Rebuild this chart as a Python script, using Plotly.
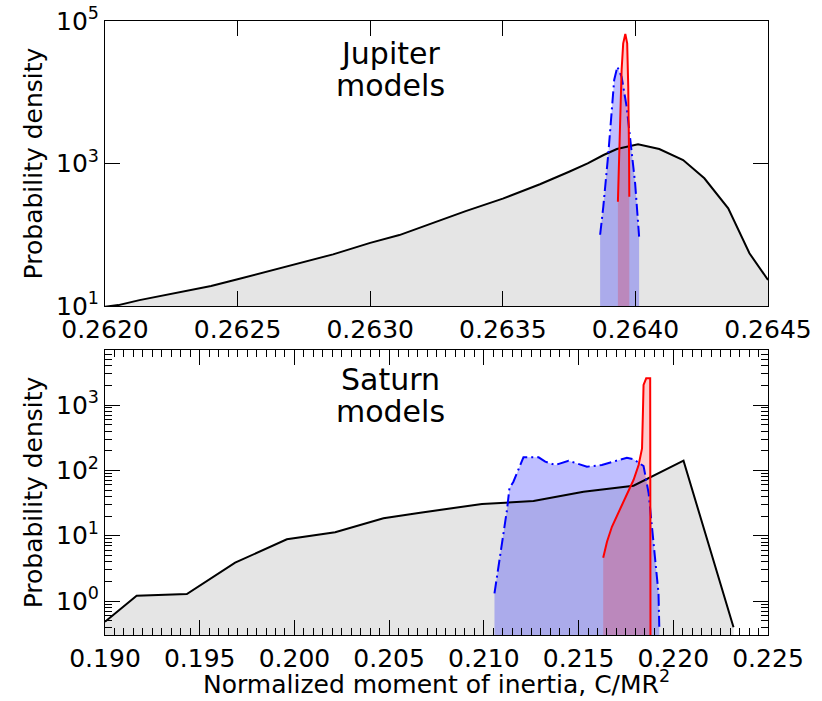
import plotly.graph_objects as go

# ---------------- Jupiter panel data ----------------
jup_all_x = [0.26200, 0.26205, 0.26213, 0.26240, 0.26250, 0.26261, 0.26271, 0.26286,
             0.26300, 0.26311, 0.26324, 0.26336, 0.26350, 0.26364, 0.26375, 0.26382,
             0.26388, 0.26393, 0.26401, 0.26409, 0.26418, 0.26426, 0.26435, 0.26443, 0.26450]
jup_all_y = [9.8, 10.3, 12.1, 19.1, 23.7, 30.3, 37.6, 53, 77, 99, 148, 215, 321, 511,
             767, 1007, 1316, 1598, 1860, 1598, 1120, 620, 235, 55, 23.2]

jup_blue_x = [0.263867, 0.263879, 0.263898, 0.263911, 0.263920, 0.263932, 0.263948,
              0.263967, 0.263982, 0.263999, 0.264014]
jup_blue_y = [100, 248, 1390, 5066, 14860, 22840, 16520, 6270, 1921, 527, 94]

jup_red_x = [0.263934, 0.263937, 0.263942, 0.263948, 0.263954, 0.263962, 0.263969,
             0.263973, 0.263976, 0.263977]
jup_red_y = [291, 811, 4083, 20510, 48640, 65700, 48640, 11970, 1390, 342]

# ---------------- Saturn panel data ----------------
sat_all_x = [0.19000, 0.19167, 0.19432, 0.19687, 0.19960, 0.20215, 0.20470, 0.20664,
             0.20990, 0.21262, 0.21526, 0.21790, 0.22054, 0.22318]
sat_all_y = [0.482, 1.205, 1.28, 3.86, 8.80, 11.26, 18.45, 22.5, 30.5, 33.9, 47.1,
             58.2, 140.4, 0.396]

sat_blue_x = [0.21056, 0.21095, 0.21122, 0.21135, 0.21156, 0.21209, 0.21289, 0.21324,
              0.21377, 0.21447, 0.21544, 0.21623, 0.21685, 0.21755, 0.21790, 0.21843,
              0.21870, 0.21887, 0.21905, 0.21922, 0.21926]
sat_blue_y = [1.31, 6.78, 24.7, 53.1, 67.0, 158.3, 158.3, 135.6, 120.7, 140.4, 113.7,
              120.7, 135.6, 156.1, 147.5, 116.5, 44.5, 13.7, 4.24, 1.31, 0.404]

sat_red_x = [0.21630, 0.21650, 0.21676, 0.21720, 0.21755, 0.21790, 0.21817, 0.21835,
             0.21840, 0.21843, 0.21857, 0.21878, 0.21880]
sat_red_y = [4.58, 8.09, 13.7, 26.2, 44.5, 71.1, 120.7, 217, 839, 2024, 2564, 2564, 0.05]

# ---------------- ticks and labels ----------------
top_x_ticks = [0.2620, 0.2625, 0.2630, 0.2635, 0.2640, 0.2645]
top_x_labels = ["0.2620", "0.2625", "0.2630", "0.2635", "0.2640", "0.2645"]
top_y_ticks = [10, 1000, 100000]
top_y_labels = ["10<sup>1</sup>", "10<sup>3</sup>", "10<sup>5</sup>"]

bot_x_ticks = [0.190, 0.195, 0.200, 0.205, 0.210, 0.215, 0.220, 0.225]
bot_x_labels = ["0.190", "0.195", "0.200", "0.205", "0.210", "0.215", "0.220", "0.225"]
bot_y_ticks = [1, 10, 100, 1000]
bot_y_labels = ["10<sup>0</sup>", "10<sup>1</sup>", "10<sup>2</sup>", "10<sup>3</sup>"]

y_title = "Probability density"
x_title = "Normalized moment of inertia, C/MR<sup>2</sup>"
jup_label = ["Jupiter", "models"]
sat_label = ["Saturn", "models"]

FONT = "DejaVu Sans"
GRAY_FILL = "rgb(229,229,229)"
BLUE_FILL = "rgba(0,0,255,0.25)"
RED_FILL = "rgba(255,0,0,0.2)"

fig = go.Figure()


def add_panel(xa, ya, ax, ay, bx, by, rx, ry):
    # fills
    fig.add_trace(go.Scatter(x=ax, y=ay, mode="lines", fill="tozeroy",
                             fillcolor=GRAY_FILL, line=dict(width=0),
                             xaxis=xa, yaxis=ya, hoverinfo="skip"))
    fig.add_trace(go.Scatter(x=bx, y=by, mode="lines", fill="tozeroy",
                             fillcolor=BLUE_FILL, line=dict(width=0),
                             xaxis=xa, yaxis=ya, hoverinfo="skip"))
    fig.add_trace(go.Scatter(x=rx, y=ry, mode="lines", fill="tozeroy",
                             fillcolor=RED_FILL, line=dict(width=0),
                             xaxis=xa, yaxis=ya, hoverinfo="skip"))
    # lines
    fig.add_trace(go.Scatter(x=ax, y=ay, mode="lines",
                             line=dict(color="black", width=2),
                             xaxis=xa, yaxis=ya))
    fig.add_trace(go.Scatter(x=bx, y=by, mode="lines",
                             line=dict(color="blue", width=2, dash="12px,4px,2px,4px"),
                             xaxis=xa, yaxis=ya))
    fig.add_trace(go.Scatter(x=rx, y=ry, mode="lines",
                             line=dict(color="red", width=2),
                             xaxis=xa, yaxis=ya))


add_panel("x", "y", jup_all_x, jup_all_y, jup_blue_x, jup_blue_y, jup_red_x, jup_red_y)
add_panel("x2", "y2", sat_all_x, sat_all_y, sat_blue_x, sat_blue_y, sat_red_x, sat_red_y)

tickfont = dict(family=FONT, size=25, color="black")
titlefont = dict(family=FONT, size=25, color="black")

common_axis = dict(showline=True, linecolor="black", linewidth=1, mirror="ticks",
                   ticks="inside", tickcolor="black", tickwidth=1, showgrid=False,
                   zeroline=False, tickfont=tickfont, automargin=False)

minor_y_vals = [k * 10 ** e for e in range(-1, 4) for k in range(2, 10)]

fig.update_layout(
    width=822, height=701,
    margin=dict(l=105, r=54, t=21, b=66),
    paper_bgcolor="white", plot_bgcolor="white",
    showlegend=False,
    template="none",
    font=dict(family=FONT, color="black"),
    xaxis=dict(domain=[0, 1], anchor="y", range=[0.262, 0.2645],
               tickvals=top_x_ticks, ticktext=top_x_labels, ticklen=15,
               ticklabelstandoff=1, **common_axis),
    yaxis=dict(domain=[0.5358, 1], anchor="x", type="log", range=[0.99999, 5.00001],
               tickvals=top_y_ticks, ticktext=top_y_labels, ticklen=15,
               title=dict(text=y_title, font=titlefont, standoff=6), **common_axis),
    xaxis2=dict(domain=[0, 1], anchor="y2", range=[0.190, 0.225],
                tickvals=bot_x_ticks, ticktext=bot_x_labels, ticklen=15,
                ticklabelstandoff=1,
                minor=dict(ticks="inside", ticklen=7, tickcolor="black", dtick=0.0005,
                           tick0=0.19, showgrid=False),
                **common_axis),
    yaxis2=dict(domain=[0, 0.4642], anchor="x2", type="log", range=[-0.520, 3.842],
                tickvals=bot_y_ticks, ticktext=bot_y_labels, ticklen=15,
                minor=dict(ticks="inside", ticklen=7, tickcolor="black",
                           tickvals=minor_y_vals, showgrid=False),
                title=dict(text=y_title, font=titlefont, standoff=6), **common_axis),
)

# x-axis title of the lower panel
fig.add_annotation(text=x_title, xref="paper", yref="paper", x=0.5, y=-0.078,
                   showarrow=False, font=titlefont, xanchor="center", yanchor="middle")

ann_font = dict(family=FONT, size=30, color="black")
for txt, yy in zip(jup_label, [0.8877, 0.7754]):
    fig.add_annotation(text=txt, xref="x domain", yref="y domain", x=0.43, y=yy,
                       showarrow=False, font=ann_font, xanchor="center", yanchor="middle")
for txt, yy in zip(sat_label, [0.898, 0.7825]):
    fig.add_annotation(text=txt, xref="x2 domain", yref="y2 domain", x=0.43, y=yy,
                       showarrow=False, font=ann_font, xanchor="center", yanchor="middle")

# remove the browser's default 8px page margin so the figure fills the window exactly
fig.write_html("out.html",
               config={"displayModeBar": False},
               post_script="document.body.style.margin='0';"
                           "document.body.style.overflow='hidden';")
